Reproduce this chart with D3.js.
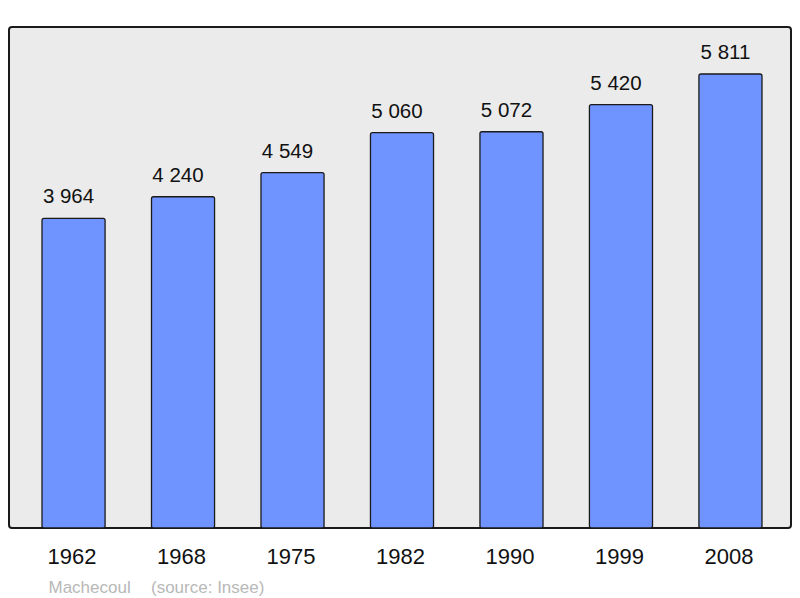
<!DOCTYPE html>
<html><head><meta charset="utf-8">
<script src="https://cdn.jsdelivr.net/npm/d3@7"></script>
<style>body{margin:0;background:#fff;}svg{display:block;font-family:"Liberation Sans",Arial,sans-serif;}</style>
</head><body>
<script>
const years = ["1962","1968","1975","1982","1990","1999","2008"];
const population = [3964, 4240, 4549, 5060, 5072, 5420, 5811];
const commune = "Machecoul";
const source = "(source: Insee)";

const W = 800, H = 598;
const svg = d3.select("body").append("svg").attr("width", W).attr("height", H);

const frame = {x0: 9, y0: 27, x1: 791, y1: 528};
svg.append("rect").attr("x", frame.x0).attr("y", frame.y0)
  .attr("width", frame.x1 - frame.x0).attr("height", frame.y1 - frame.y0)
  .attr("rx", 3).attr("fill", "#ebebeb").attr("stroke", "#1a1a1a").attr("stroke-width", 2);

const x = d3.scaleBand().domain(years).range([18.8, 785.2]).paddingInner(0.424).paddingOuter(0.212);
const y = d3.scaleLinear().domain([0, 5811]).range([frame.y1, 74]);

const fmt = v => d3.format(",")(v).replace(/,/g, " ");

svg.selectAll("rect.bar").data(population).join("rect").attr("class", "bar")
  .attr("x", (d, i) => x(years[i])).attr("y", d => y(d))
  .attr("width", x.bandwidth()).attr("height", d => frame.y1 - y(d))
  .attr("rx", 2).attr("fill", "#7094ff").attr("stroke", "#1a1a1a").attr("stroke-width", 1.3);

svg.selectAll("text.val").data(population).join("text").attr("class", "val")
  .attr("x", (d, i) => x(years[i]) + x.bandwidth() / 2 - 5).attr("y", d => y(d) - 15)
  .attr("text-anchor", "middle").attr("font-size", 20.5).attr("fill", "#111").text(d => fmt(d));

svg.selectAll("text.yr").data(years).join("text").attr("class", "yr")
  .attr("x", d => x(d) + x.bandwidth() / 2 - 1.5).attr("y", 563.5)
  .attr("text-anchor", "middle").attr("font-size", 22).attr("fill", "#111").text(d => d);

svg.append("text").attr("x", 48.5).attr("y", 592.5).attr("font-size", 17).attr("fill", "#b8b8b8").text(commune);
svg.append("text").attr("x", 151).attr("y", 592.5).attr("font-size", 17).attr("fill", "#b8b8b8").text(source);
</script>
</body></html>
